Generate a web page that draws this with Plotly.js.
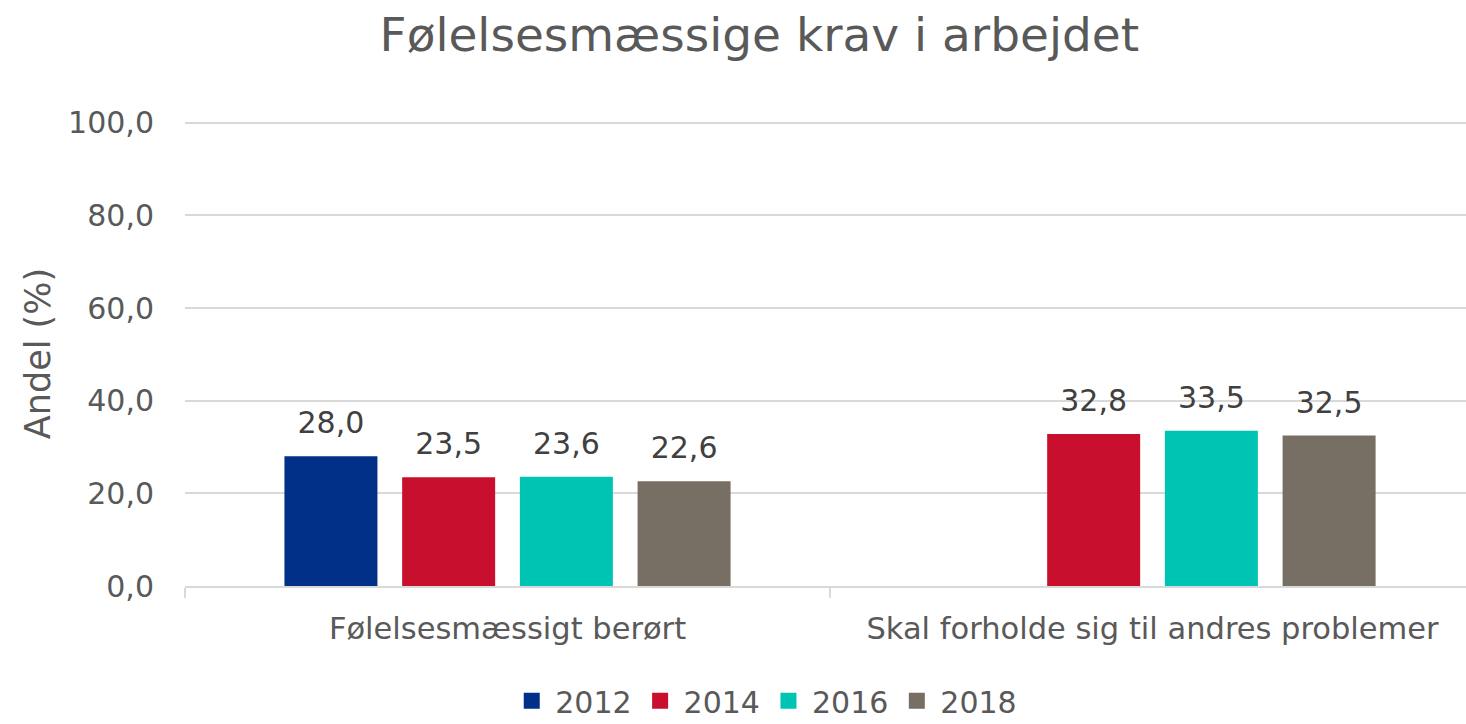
<!DOCTYPE html>
<html><head><meta charset="utf-8">
<script src="https://cdn.plot.ly/plotly-3.0.1.min.js"></script>
<style>html,body{margin:0;padding:0;background:#fff;}#chart{width:1466px;height:724px;}</style>
</head><body><div id="chart"></div>
<script>
const categories = ["Følelsesmæssigt berørt", "Skal forholde sig til andres problemer"];
const years = ["2012", "2014", "2016", "2018"];
const values2012 = [28.0, null];
const values2014 = [23.5, 32.8];
const values2016 = [23.6, 33.5];
const values2018 = [22.6, 32.5];
const colors = ["#003087", "#C8102E", "#00C4B3", "#776E64"];
const series = [values2012, values2014, values2016, values2018];
const FONT = "DejaVu Sans, Verdana, sans-serif";

const barTraces = series.map((vals, i) => ({
  type: "bar",
  name: years[i],
  x: categories,
  y: vals,
  marker: {color: colors[i]},
  showlegend: false,
  hoverinfo: "skip"
}));

const labelTraces = series.map((vals, i) => ({
  type: "scatter",
  mode: "markers+text",
  name: years[i] + " label",
  showlegend: false,
  x: categories,
  y: vals,
  marker: {size: 23, color: "rgba(0,0,0,0)"},
  texttemplate: "%{y:.1f}",
  textposition: "top center",
  cliponaxis: false,
  textfont: {family: FONT, size: 30, color: "#404040"},
  hoverinfo: "skip"
}));

// legend-only entries (square swatches), on a hidden overlay axis pair
const legendTraces = years.map((yr, i) => ({
  type: "scatter",
  mode: "markers",
  name: yr,
  x: [null], y: [null],
  xaxis: "x2", yaxis: "y2",
  marker: {symbol: "square", size: 16, color: colors[i]},
  hoverinfo: "skip"
}));

const layout = {
  width: 1466, height: 724,
  margin: {l: 185, r: 0, t: 121, b: 138},
  paper_bgcolor: "#fff", plot_bgcolor: "#fff",
  separators: ", ",
  font: {family: FONT, color: "#595959"},
  title: {text: "Følelsesmæssige krav i arbejdet", font: {family: FONT, size: 47, color: "#595959"},
          x: 0.518, xref: "container", xanchor: "center", y: 0.952, yref: "container", yanchor: "middle"},
  bargap: 0.27, bargroupgap: 0.21, barmode: "group",
  scattermode: "group", scattergap: 0.27,
  xaxis: {
    type: "category", range: [-0.5, 1.486],
    showline: true, linecolor: "#D9D9D9", linewidth: 2,
    ticks: "outside", tickson: "boundaries", ticklen: 10, tickcolor: "#D9D9D9", tickwidth: 2,
    ticklabelstandoff: 14,
    tickfont: {family: FONT, size: 30.5, color: "#595959"},
    showgrid: false, zeroline: false
  },
  yaxis: {
    range: [0, 100.4], tickvals: [0, 20, 40, 60, 80, 100], tickformat: ".1f",
    showgrid: true, gridcolor: "#D9D9D9", gridwidth: 2,
    zeroline: false, showline: false, ticks: "",
    ticklabelstandoff: 30,
    tickfont: {family: FONT, size: 30, color: "#595959"},
    title: {text: "Andel (%)", font: {family: FONT, size: 35, color: "#595959"}, standoff: 6}
  },
  xaxis2: {overlaying: "x", visible: false, range: [0, 1]},
  yaxis2: {overlaying: "y", visible: false, range: [0, 1]},
  showlegend: true,
  legend: {orientation: "h", xref: "container", yref: "container", x: 0.522, xanchor: "center",
           y: 0.032, yanchor: "middle", font: {family: FONT, size: 30, color: "#595959"},
           itemwidth: 37, tracegroupgap: 0, traceorder: "normal"}
};

Plotly.newPlot("chart", barTraces.concat(labelTraces, legendTraces), layout, {displayModeBar: false, staticPlot: true});
</script></body></html>
